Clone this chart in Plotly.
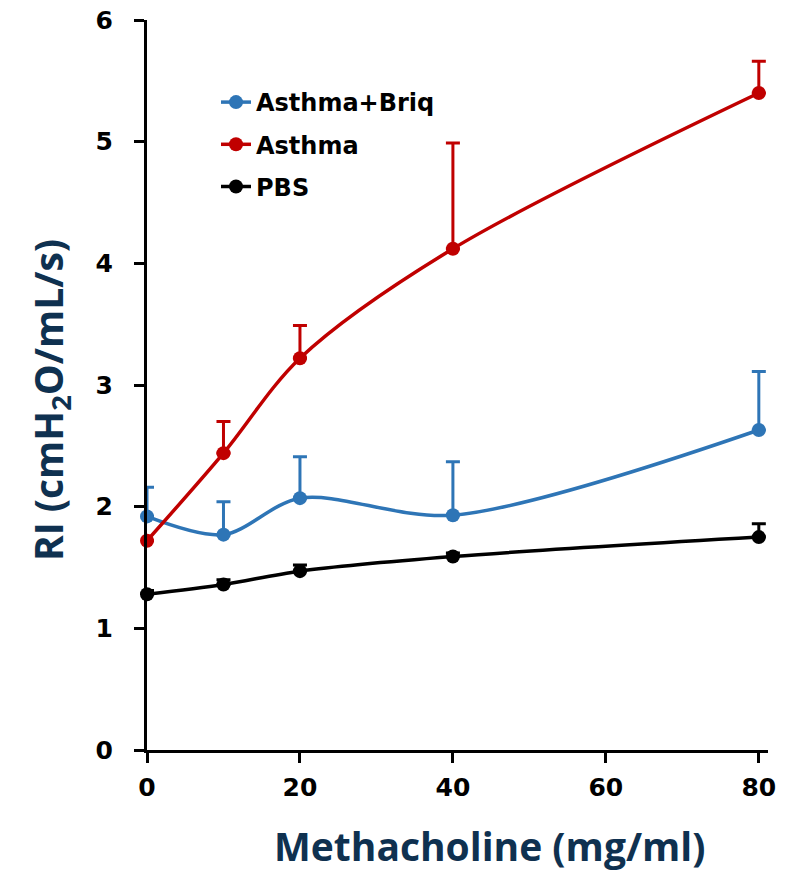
import plotly.graph_objects as go

dose = [0, 10, 20, 40, 80]

pbs = [1.28, 1.36, 1.47, 1.59, 1.75]
pbs_err = [0.03, 0.04, 0.05, 0.03, 0.11]

asthma = [1.72, 2.44, 3.22, 4.12, 5.40]
asthma_err = [0.0, 0.26, 0.27, 0.87, 0.26]

briq = [1.92, 1.77, 2.07, 1.93, 2.63]
briq_err = [0.24, 0.27, 0.34, 0.44, 0.48]

x_ticks = [0, 20, 40, 60, 80]
y_ticks = [0, 1, 2, 3, 4, 5, 6]

series = [
    ("PBS", pbs, pbs_err, "#000000", 3),
    ("Asthma+Briq", briq, briq_err, "#2E75B6", 1),
    ("Asthma", asthma, asthma_err, "#C00000", 2),
]

fig = go.Figure()
for name, vals, err, col, rank in series:
    fig.add_trace(go.Scatter(
        x=dose, y=vals, name=name, mode="lines+markers",
        line=dict(color=col, width=3.5, shape="spline", smoothing=0.9),
        marker=dict(color=col, size=14),
        error_y=dict(type="data", array=err, arrayminus=[0]*len(err), symmetric=False,
                     color=col, thickness=3, width=7),
        cliponaxis=False, legendrank=rank, legendgroup=name,
    ))

W, H = 790, 872
L, R, T, B = 147, 22, 20, 122
pw = W - L - R
ph = H - T - B

def px_to_paper(xp, yp):
    return (xp - L) / pw, 1 - (yp - T) / ph

title_font = dict(family="Open Sans", size=39, color="#0F3150", weight="bold")
tickfont = dict(family="DejaVu Sans", size=25, color="black", weight="bold")

xt_x, xt_y = px_to_paper(489, 846)
yt_x, yt_y = px_to_paper(50, 400)
lg_x, lg_y = px_to_paper(216, 80)

fig.update_layout(
    width=W, height=H,
    margin=dict(l=L, r=R, t=T, b=B, autoexpand=False),
    plot_bgcolor="white", paper_bgcolor="white",
    showlegend=True,
    legend=dict(x=lg_x, y=lg_y, xanchor="left", yanchor="top",
                font=dict(family="DejaVu Sans", size=24, color="black", weight="bold"),
                bgcolor="rgba(0,0,0,0)", tracegroupgap=8, traceorder="grouped"),
    xaxis=dict(range=[0, 81.2], tickvals=x_ticks, showline=True, linecolor="black", linewidth=3,
               ticks="outside", ticklen=10, tickwidth=3, tickcolor="black", tickfont=tickfont,
               ticklabelstandoff=3, ticklabeloverflow="allow", automargin=False,
               showgrid=False, zeroline=False),
    yaxis=dict(range=[0, 6], tickvals=y_ticks, showline=True, linecolor="black", linewidth=3,
               ticks="outside", ticklen=10, tickwidth=3, tickcolor="black", tickfont=tickfont,
               ticklabelstandoff=16, ticklabeloverflow="allow", automargin=False,
               showgrid=False, zeroline=False),
)
fig.add_annotation(text="Methacholine (mg/ml)", x=xt_x, y=xt_y, xref="paper", yref="paper",
                   xanchor="center", yanchor="middle", showarrow=False, font=title_font)
fig.add_annotation(text="RI (cmH<sub>2</sub>O/mL/s)", x=yt_x, y=yt_y, xref="paper", yref="paper",
                   xanchor="center", yanchor="middle", textangle=-90, showarrow=False,
                   font=title_font)

fig.write_html("out.html", config={"displayModeBar": False},
               post_script="document.body.style.margin='0';")
